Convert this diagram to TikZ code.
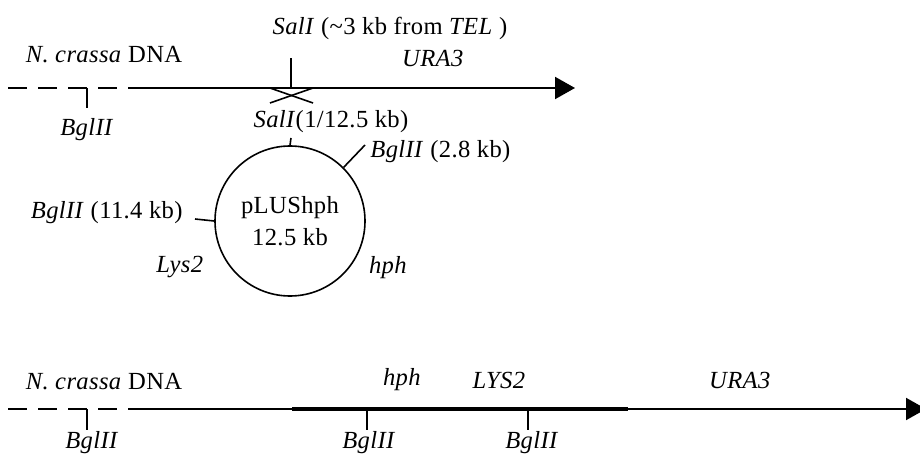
\documentclass[tikz,border=0pt]{standalone}
\usepackage{fontspec}
\setmainfont{Liberation Serif}[LetterSpace=1.5]
\usetikzlibrary{arrows.meta}
\tikzset{
  dna/.style={line width=1pt},
  dnadash/.style={line width=1pt, dash pattern=on 9.5pt off 5.5pt},
  dnaarrow/.style={line width=1pt, -{Triangle[length=10pt,width=11pt]}},
  insert/.style={line width=2.2pt},
  site/.style={line width=0.8pt},
  lbl/.style={inner sep=0pt, font=\fontsize{12.3}{16}\selectfont},
  plasmid/.style={circle, draw, line width=0.8pt, minimum size=75pt, inner sep=0pt,
    align=center, font=\fontsize{12.3}{16}\selectfont},
}
\begin{document}
\begin{tikzpicture}[x=0.5pt,y=-0.5pt]
\useasboundingbox (0,0) rectangle (920,454);

% ---------- chromosome before integration ----------
\coordinate (a0) at (8,88);
\coordinate (a1) at (117,88);
\coordinate (a2) at (128,88);
\coordinate (a3) at (575,88);
\draw[dnadash] (a0) -- (a1);
\draw[dnaarrow] (a2) -- (a3);

\coordinate (aB) at (87,88);
\coordinate (aBt) at (87,108);
\draw[site] (aB) -- (aBt);
\node[lbl] (aBl) at (87,130) {\textit{BglII}};

\coordinate (aS) at (291,88);
\coordinate (aSt) at (291,58);
\draw[site] (aS) -- (aSt);
\node[lbl] (aSl) at (390,28) {\textit{SalI} (\textasciitilde3 kb from \textit{TEL} )};
\node[lbl] (aU) at (433,58) {\textit{URA3}};
\node[lbl] (aN) at (104,55) {\textit{N. crassa} DNA};

% crossover
\coordinate (x1) at (270,88);
\coordinate (x2) at (313,103);
\coordinate (x3) at (313,88);
\coordinate (x4) at (270,103);
\draw[site] (x1) -- (x2);
\draw[site] (x3) -- (x4);

% ---------- plasmid ----------
\node[plasmid] (p) at (290,221) {pLUShph\\12.5 kb};
\coordinate (pS) at (291,138);
\draw[site] (p.north) -- (pS);
\node[lbl] (pSl) at (331,122) {\textit{SalI}(1/12.5 kb)};

\coordinate (pB1) at (365,145);
\draw[site] (p.45) -- (pB1);
\node[lbl, anchor=west] (pB1l) at (370,152) {\textit{BglII} (2.8 kb)};

\coordinate (pB2) at (195,219);
\draw[site] (p.west) -- (pB2);
\node[lbl, anchor=east] (pB2l) at (183,213) {\textit{BglII} (11.4 kb)};

\node[lbl] (pL) at (180,267) {\textit{Lys2}};
\node[lbl] (pH) at (388,268) {\textit{hph}};

% ---------- chromosome after integration ----------
\coordinate (b0) at (8,409);
\coordinate (b1) at (117,409);
\coordinate (b2) at (128,409);
\coordinate (b3) at (926,409);
\draw[dnadash] (b0) -- (b1);
\draw[dnaarrow] (b2) -- (b3);

\coordinate (i0) at (292,409);
\coordinate (i1) at (628,409);
\draw[insert] (i0) -- (i1);

\coordinate (bB1) at (87,409);
\coordinate (bB1t) at (87,430);
\draw[site] (bB1) -- (bB1t);
\coordinate (bB2) at (367,409);
\coordinate (bB2t) at (367,430);
\draw[site] (bB2) -- (bB2t);
\coordinate (bB3) at (528,409);
\coordinate (bB3t) at (528,430);
\draw[site] (bB3) -- (bB3t);

\node[lbl] (bB1l) at (92,443) {\textit{BglII}};
\node[lbl] (bB2l) at (369,443) {\textit{BglII}};
\node[lbl] (bB3l) at (532,443) {\textit{BglII}};

\node[lbl] (bN) at (104,382) {\textit{N. crassa} DNA};
\node[lbl] (bH) at (402,380) {\textit{hph}};
\node[lbl] (bL) at (499,380) {\textit{LYS2}};
\node[lbl] (bU) at (740,380) {\textit{URA3}};
\end{tikzpicture}
\end{document}
